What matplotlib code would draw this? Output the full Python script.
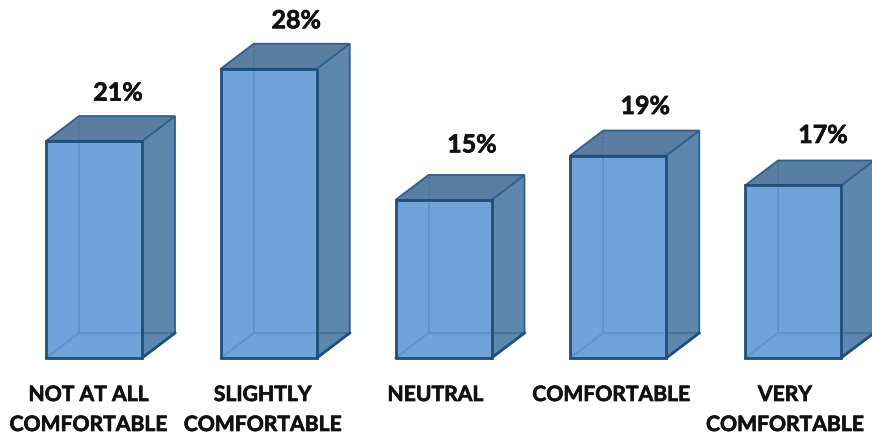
import matplotlib
matplotlib.use("Agg")
import matplotlib.pyplot as plt
from matplotlib.patches import Polygon
import matplotlib.patheffects as pe

categories = ["NOT AT ALL\nCOMFORTABLE", "SLIGHTLY\nCOMFORTABLE", "NEUTRAL", "COMFORTABLE", "VERY\nCOMFORTABLE"]
percent_labels = ["21%", "28%", "15%", "19%", "17%"]
heights = [21.0, 28.0, 15.3, 19.6, 16.7]

W, H = 872, 438
fig = plt.figure(figsize=(W / 100, H / 100), dpi=100)
ax = fig.add_axes([0, 0, 1, 1])
# one category = 174.75 px, one percent = 10.33 px
unit_x, unit_y = 174.75, 10.33
x0 = 94.0
base = 358.0
ax.set_xlim(-x0 / unit_x, (W - x0) / unit_x)
ax.set_ylim(-(H - base) / unit_y, base / unit_y)
ax.axis("off")

half = 48.0 / unit_x
dx, dy = 33.0 / unit_x, 25.0 / unit_y
EDGE = "#1f4e79"
INNER = "#5a95d0"
pct_dx = [24, 27.5, 28.5, 27, 30]
pct_dy = [48, 48, 55, 49, 50]
cat_dx = [-5.5, -6, -8, -7, -8]
halo = [pe.withStroke(linewidth=0.5, foreground="#111111")]

for i, (cat, lab, h) in enumerate(zip(categories, percent_labels, heights)):
    l, r = i - half, i + half
    ax.add_patch(Polygon([(r, 0), (r+dx, dy), (r+dx, h+dy), (r, h)], fc="#5e87ae", ec="#2f5f8f", lw=1.3, zorder=2))
    ax.add_patch(Polygon([(l, h), (r, h), (r+dx, h+dy), (l+dx, h+dy)], fc="#5a7ea2", ec="#2f5f8f", lw=1.3, zorder=2))
    ax.add_patch(Polygon([(l, 0), (r, 0), (r, h), (l, h)], fc="#70a4d9", ec="none", zorder=3))
    ax.plot([l+dx, l+dx], [dy, h], color=INNER, lw=1.5, zorder=4, solid_capstyle="butt")
    ax.plot([l, l+dx, r], [0, dy, dy], color=INNER, lw=1.5, zorder=4)
    ax.plot([l+dx, l+dx], [h, h+dy], color="#4a7397", lw=1.2, ls=(0, (1.5, 1)), zorder=4)
    ax.plot([r, r+dx], [dy, dy], color="#3f6f9c", lw=1.2, zorder=4)
    ax.plot([r, r+dx], [0, dy], color=EDGE, lw=2, zorder=4)
    ax.add_patch(Polygon([(l, 0), (r, 0), (r, h), (l, h)], fc="none", ec=EDGE, lw=2.0, zorder=5, joinstyle="miter"))
    ax.text(i + pct_dx[i] / unit_x, h + pct_dy[i] / unit_y, lab, ha="center", va="center", fontsize=18,
            fontweight="bold", family="Lato", color="#111111", zorder=6, path_effects=halo)
    for j, t in enumerate(cat.split("\n")):
        ax.text(i + cat_dx[i] / unit_x, -(37 + 30 * j) / unit_y, t, ha="center", va="center", fontsize=15.2,
                fontweight="bold", family="Lato", color="#111111", zorder=6, path_effects=halo)

fig.savefig("out.png", dpi=100, facecolor="white")
